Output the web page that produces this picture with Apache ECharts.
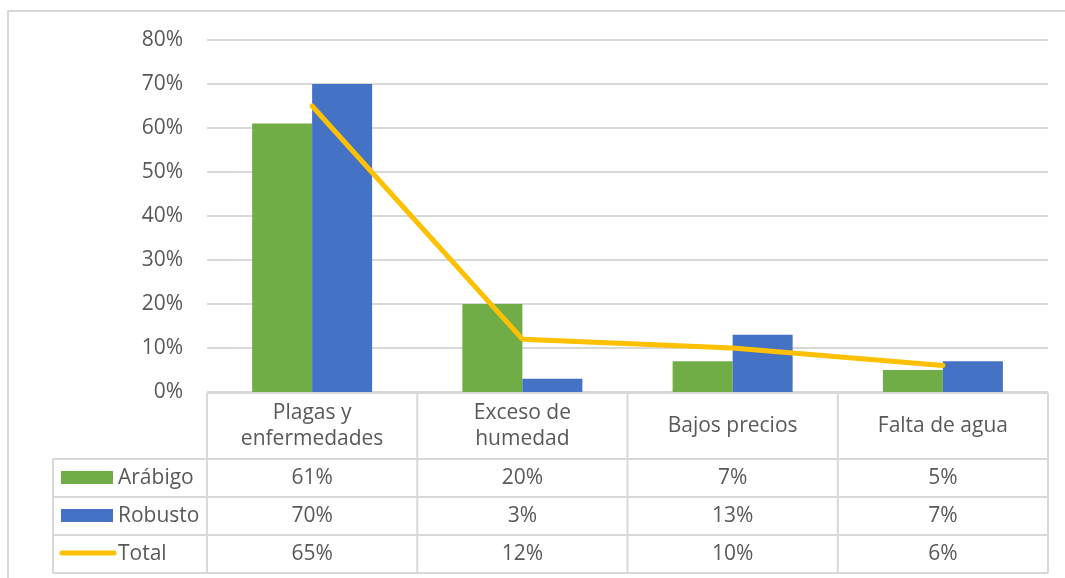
<!DOCTYPE html>
<html>
<head>
<meta charset="utf-8">
<script src="https://cdn.jsdelivr.net/npm/echarts@6/dist/echarts.min.js"></script>
<style>
  html, body { margin: 0; padding: 0; background: #fff; }
  #chart { width: 1065px; height: 578px; }
</style>
</head>
<body>
<div id="chart"></div>
<script>
// data (percent)
var categories = ['Plagas y\nenfermedades', 'Exceso de\nhumedad', 'Bajos precios', 'Falta de agua'];
var arabigo = [61, 20, 7, 5];
var robusto = [70, 3, 13, 7];
var total = [65, 12, 10, 6];
var seriesNames = ['Arábigo', 'Robusto', 'Total'];
var colors = ['#70AD47', '#4472C4', '#FFC000'];

var chartDom = document.getElementById('chart');
var myChart = echarts.init(chartDom);

// table geometry
var gridLeft = 207, gridRight = 1048, gridTop = 40, tableTop = 393;
var headerH = 66, rowH = 38, labelLeft = 53;
var lineColor = '#d9d9d9';
var textColor = '#595959';
var fontFam = '"Open Sans", sans-serif';
var fs = 21;

function buildTable() {
  var els = [];
  var n = categories.length;
  var colW = (gridRight - gridLeft) / n;
  var rows = [arabigo, robusto, total];
  var rowTop = tableTop + headerH;
  var bottom = rowTop + rows.length * rowH;
  function ln(x1, y1, x2, y2) {
    els.push({type: 'line', shape: {x1: x1, y1: y1, x2: x2, y2: y2},
      style: {stroke: lineColor, lineWidth: 2}, silent: true});
  }
  // outer frame
  els.push({type: 'rect', shape: {x: 8, y: 11, width: 1080, height: 600},
    style: {fill: null, stroke: lineColor, lineWidth: 2}, silent: true});
  ln(gridLeft, tableTop, gridRight, tableTop);
  for (var i = 0; i <= n; i++) {
    var x = gridLeft + i * colW;
    ln(x, tableTop, x, bottom);
  }
  for (var r = 0; r <= rows.length; r++) {
    ln(labelLeft, rowTop + r * rowH, gridRight, rowTop + r * rowH);
  }
  ln(labelLeft, rowTop, labelLeft, bottom);

  for (var r = 0; r < rows.length; r++) {
    var cy = rowTop + r * rowH + rowH / 2;
    // legend key
    if (r < 2) {
      els.push({type: 'rect', shape: {x: 61, y: cy - 7, width: 52, height: 13},
        style: {fill: colors[r]}, silent: true});
    } else {
      els.push({type: 'line', shape: {x1: 62, y1: cy - 1, x2: 114, y2: cy - 1},
        style: {stroke: colors[r], lineWidth: 5, lineCap: 'round'}, silent: true});
    }
    els.push({type: 'text', x: 118, y: cy,
      style: {text: seriesNames[r], fill: textColor, font: fs + 'px ' + fontFam,
        textAlign: 'left', textVerticalAlign: 'middle'}, silent: true});
    for (var c = 0; c < n; c++) {
      els.push({type: 'text', x: gridLeft + c * colW + colW / 2, y: cy,
        style: {text: rows[r][c] + '%', fill: textColor, font: fs + 'px ' + fontFam,
          textAlign: 'center', textVerticalAlign: 'middle'}, silent: true});
    }
  }
  return els;
}

var option = {
  animation: false,
  backgroundColor: '#fff',
  textStyle: {fontFamily: fontFam},
  grid: {left: gridLeft, right: 1065 - gridRight, top: gridTop, bottom: 578 - 392},
  xAxis: {
    type: 'category',
    data: categories,
    axisLine: {show: false},
    axisTick: {show: false},
    axisLabel: {
      color: textColor, fontSize: fs, lineHeight: 26,
      margin: 34, verticalAlign: 'middle', interval: 0
    }
  },
  yAxis: {
    type: 'value',
    min: 0, max: 80, interval: 10,
    axisLine: {show: false},
    axisTick: {show: false},
    axisLabel: {color: textColor, fontSize: fs, margin: 24, formatter: '{value}%'},
    splitLine: {lineStyle: {color: lineColor, width: 2}}
  },
  series: [
    {name: seriesNames[0], type: 'bar', data: arabigo, barWidth: 60, barGap: '0%',
      itemStyle: {color: colors[0]}},
    {name: seriesNames[1], type: 'bar', data: robusto, barWidth: 60,
      itemStyle: {color: colors[1]}},
    {name: seriesNames[2], type: 'line', data: total, showSymbol: false, symbol: 'none',
      lineStyle: {color: colors[2], width: 5, cap: 'round', join: 'round'},
      itemStyle: {color: colors[2]}, z: 5}
  ],
  graphic: buildTable()
};

myChart.setOption(option);
</script>
</body>
</html>
